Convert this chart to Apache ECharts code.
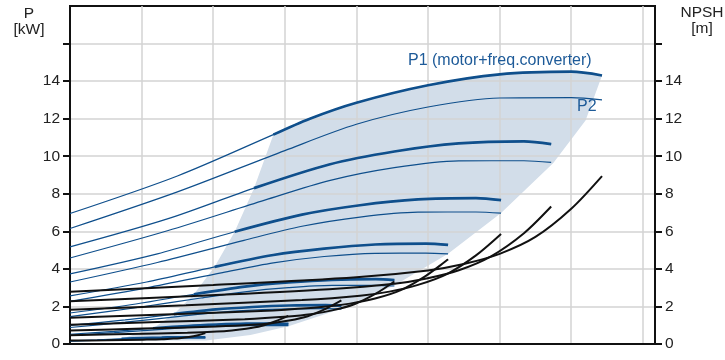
<!DOCTYPE html>
<html>
<head>
<meta charset="utf-8">
<script src="https://cdn.jsdelivr.net/npm/echarts@6/dist/echarts.min.js"></script>
<style>
html,body{margin:0;padding:0;background:#fff;}
#chart{width:725px;height:360px;}
</style>
</head>
<body>
<div id="chart"></div>
<script>
// ---- data ----
const yTickValues = [0, 2, 4, 6, 8, 10, 12, 14, 16];
const yLabelValues = [0, 2, 4, 6, 8, 10, 12, 14];

// P1 curves (motor + freq. converter), one per speed; index 2 = start of operating range
const P1_S1 = [[0,6.95],[1.5,8.95],[2.84,11.15],[3.35,12.0],[4,12.85],[5,13.78],[6,14.36],[7,14.5],[7.43,14.3]];
const P1_S2 = [[0,5.17],[1.36,6.66],[2.57,8.30],[3.62,9.56],[4.53,10.25],[5.43,10.68],[6.34,10.79],[6.72,10.64]];
const P1_S3 = [[0,3.73],[1.22,4.80],[2.30,5.98],[3.24,6.89],[4.05,7.39],[4.86,7.70],[5.67,7.77],[6.02,7.66]];
const P1_S4 = [[0,2.56],[1.07,3.30],[2.02,4.11],[2.84,4.74],[3.55,5.08],[4.26,5.30],[4.97,5.35],[5.28,5.28]];
const P1_S5 = [[0,1.65],[0.92,2.13],[1.73,2.65],[2.44,3.06],[3.05,3.28],[3.66,3.42],[4.27,3.45],[4.53,3.40]];
const P1_S6 = [[0,0.99],[0.77,1.28],[1.45,1.59],[2.04,1.84],[2.55,1.97],[3.06,2.05],[3.57,2.07],[3.79,2.04]];
const P1_S7 = [[0,0.52],[0.62,0.67],[1.16,0.84],[1.64,0.96],[2.05,1.03],[2.46,1.08],[2.87,1.09],[3.05,1.07]];
const P1_S8 = [[0,0.17],[0.38,0.22],[0.72,0.28],[1.02,0.32],[1.28,0.34],[1.53,0.36],[1.79,0.36],[1.89,0.36]];

// P2 curves (shaft power)
const P2_S1 = [[0,6.15],[1.5,8.1],[3,10.3],[4,11.7],[5,12.62],[6,13.1],[7,13.12],[7.43,13.0]];
const P2_S2 = [[0,4.58],[1.36,6.03],[2.72,7.66],[3.62,8.70],[4.53,9.39],[5.43,9.75],[6.34,9.76],[6.72,9.67]];
const P2_S3 = [[0,3.30],[1.22,4.34],[2.43,5.52],[3.24,6.27],[4.05,6.76],[4.86,7.02],[5.67,7.03],[6.02,6.97]];
const P2_S4 = [[0,2.27],[1.07,2.99],[2.13,3.80],[2.84,4.32],[3.55,4.66],[4.26,4.83],[4.97,4.84],[5.28,4.80]];
const P2_S5 = [[0,1.46],[0.92,1.93],[1.83,2.45],[2.44,2.78],[3.05,3.00],[3.66,3.12],[4.27,3.12],[4.53,3.09]];
const P2_S6 = [[0,0.88],[0.77,1.16],[1.53,1.47],[2.04,1.67],[2.55,1.80],[3.06,1.87],[3.57,1.88],[3.79,1.86]];
const P2_S7 = [[0,0.46],[0.62,0.61],[1.23,0.77],[1.64,0.88],[2.05,0.95],[2.46,0.98],[2.87,0.98],[3.05,0.98]];
const P2_S8 = [[0,0.15],[0.38,0.20],[0.77,0.26],[1.02,0.29],[1.28,0.32],[1.53,0.33],[1.79,0.33],[1.89,0.33]];

// NPSH curves
const N_S1 = [[0,2.78],[2,3.14],[4,3.56],[5,3.92],[5.5,4.26],[6,4.8],[6.5,5.7],[7,7.2],[7.43,8.94]];
const N_S2 = [[0,2.28],[1.81,2.57],[3.62,2.92],[4.53,3.21],[4.98,3.49],[5.43,3.93],[5.88,4.67],[6.34,5.90],[6.72,7.32]];
const N_S3 = [[0,1.82],[1.62,2.06],[3.24,2.34],[4.05,2.57],[4.46,2.79],[4.86,3.15],[5.27,3.74],[5.67,4.72],[6.02,5.86]];
const N_S4 = [[0,1.40],[1.42,1.58],[2.84,1.79],[3.55,1.98],[3.91,2.15],[4.26,2.42],[4.62,2.87],[4.97,3.63],[5.28,4.51]];
const N_S5 = [[0,1.03],[1.22,1.17],[2.44,1.32],[3.05,1.46],[3.36,1.58],[3.66,1.79],[3.97,2.12],[4.27,2.68],[4.53,3.33]];
const N_S6 = [[0,0.72],[1.02,0.82],[2.04,0.93],[2.55,1.02],[2.81,1.11],[3.06,1.25],[3.32,1.48],[3.57,1.87],[3.79,2.32]];
const N_S7 = [[0,0.47],[0.82,0.53],[1.64,0.60],[2.05,0.66],[2.26,0.72],[2.46,0.81],[2.67,0.96],[2.87,1.21],[3.05,1.50]];
const N_S8 = [[0,0.18],[0.51,0.20],[1.02,0.23],[1.28,0.25],[1.40,0.28],[1.53,0.31],[1.66,0.37],[1.79,0.47],[1.89,0.58]];

// operating range (shaded area) outline
const SHADE = [[2.84,11.15],[3.35,12.0],[4,12.85],[5,13.78],[6,14.36],[7,14.5],[7.43,14.3],
  [7.2,11.9],[6.75,9.64],[6.02,6.97],[5.28,4.8],[4.53,3.12],[3.79,1.88],[3.05,0.95],[2.52,0.48],
  [1.9,0.18],[0.72,0.18],[0.72,0.28],[1.16,0.84],[1.45,1.59],[1.73,2.65],[2.02,4.11],[2.30,5.98],[2.57,8.30]];

const P1_CURVES = [P1_S1,P1_S2,P1_S3,P1_S4,P1_S5,P1_S6,P1_S7,P1_S8];
const P2_CURVES = [P2_S1,P2_S2,P2_S3,P2_S4,P2_S5,P2_S6,P2_S7,P2_S8];
const NPSH_CURVES = [N_S1,N_S2,N_S3,N_S4,N_S5,N_S6,N_S7,N_S8];

// ---- styles ----
const BLUE = '#0f4f8c';
const FONT = 'Liberation Sans, Arial, sans-serif';
const GRIDC = '#d3d3d3';

const series = [];
series.push({
  type: 'custom', z: 1, silent: true, clip: true,
  data: [0],
  renderItem: function (params, api) {
    const pts = SHADE.map(p => api.coord(p));
    return { type: 'polygon', shape: { points: pts }, style: { fill: '#d2dde9' } };
  }
});
function lineS(data, color, width, yIdx) {
  return {
    type: 'line', data: data, yAxisIndex: yIdx || 0, z: 3,
    showSymbol: false, symbol: 'none', smooth: 0.3, silent: true,
    lineStyle: { color: color, width: width, cap: 'butt' }
  };
}
P2_CURVES.forEach(c => series.push(lineS(c, BLUE, 1.2)));
P1_CURVES.forEach(c => series.push(lineS(c, BLUE, 1.2)));
P1_CURVES.forEach(c => series.push(lineS(c.slice(2), BLUE, 2.7)));
NPSH_CURVES.forEach(c => series.push(lineS(c, '#111111', 2, 1)));

function yAx(pos, showSplit) {
  return {
    type: 'value', position: pos, min: 0, max: 18, interval: 2, z: 2,
    axisLine: { show: true, onZero: false, lineStyle: { color: '#111', width: 2 } },
    axisTick: { show: true, length: 7, customValues: yTickValues, lineStyle: { color: '#111', width: 2 } },
    axisLabel: { customValues: yLabelValues, color: '#222', fontSize: 15.5, fontFamily: FONT, margin: 10 },
    splitLine: { show: showSplit, lineStyle: { color: GRIDC, width: 1.5 } }
  };
}

const option = {
  animation: false,
  grid: { left: 70, right: 70, top: 6, bottom: 16, show: true, borderColor: '#111', borderWidth: 2, backgroundColor: 'transparent' },
  xAxis: {
    type: 'value', min: 0, max: 8.17, interval: 1, z: 2,
    axisLine: { show: true, onZero: false, lineStyle: { color: '#111', width: 2 } },
    axisTick: { show: false }, axisLabel: { show: false },
    splitLine: { show: true, lineStyle: { color: GRIDC, width: 1.5 } }
  },
  yAxis: [yAx('left', true), yAx('right', false)],
  series: series,
  graphic: [
    { type: 'text', x: 29, y: 6, z: 10, style: { text: 'P\n[kW]', fill: '#222', font: '15.5px ' + FONT, align: 'center', verticalAlign: 'top', lineHeight: 16 } },
    { type: 'text', x: 702, y: 5, z: 10, style: { text: 'NPSH\n[m]', fill: '#222', font: '15.5px ' + FONT, align: 'center', verticalAlign: 'top', lineHeight: 16 } },
    { type: 'text', x: 408, y: 53, z: 10, style: { text: 'P1 (motor+freq.converter)', fill: '#1d5a98', font: '16px ' + FONT, verticalAlign: 'top' } },
    { type: 'text', x: 577, y: 99, z: 10, style: { text: 'P2', fill: '#1d5a98', font: '16px ' + FONT, verticalAlign: 'top' } }
  ]
};

const chart = echarts.init(document.getElementById('chart'), null, { renderer: 'canvas' });
chart.setOption(option);
</script>
</body>
</html>
